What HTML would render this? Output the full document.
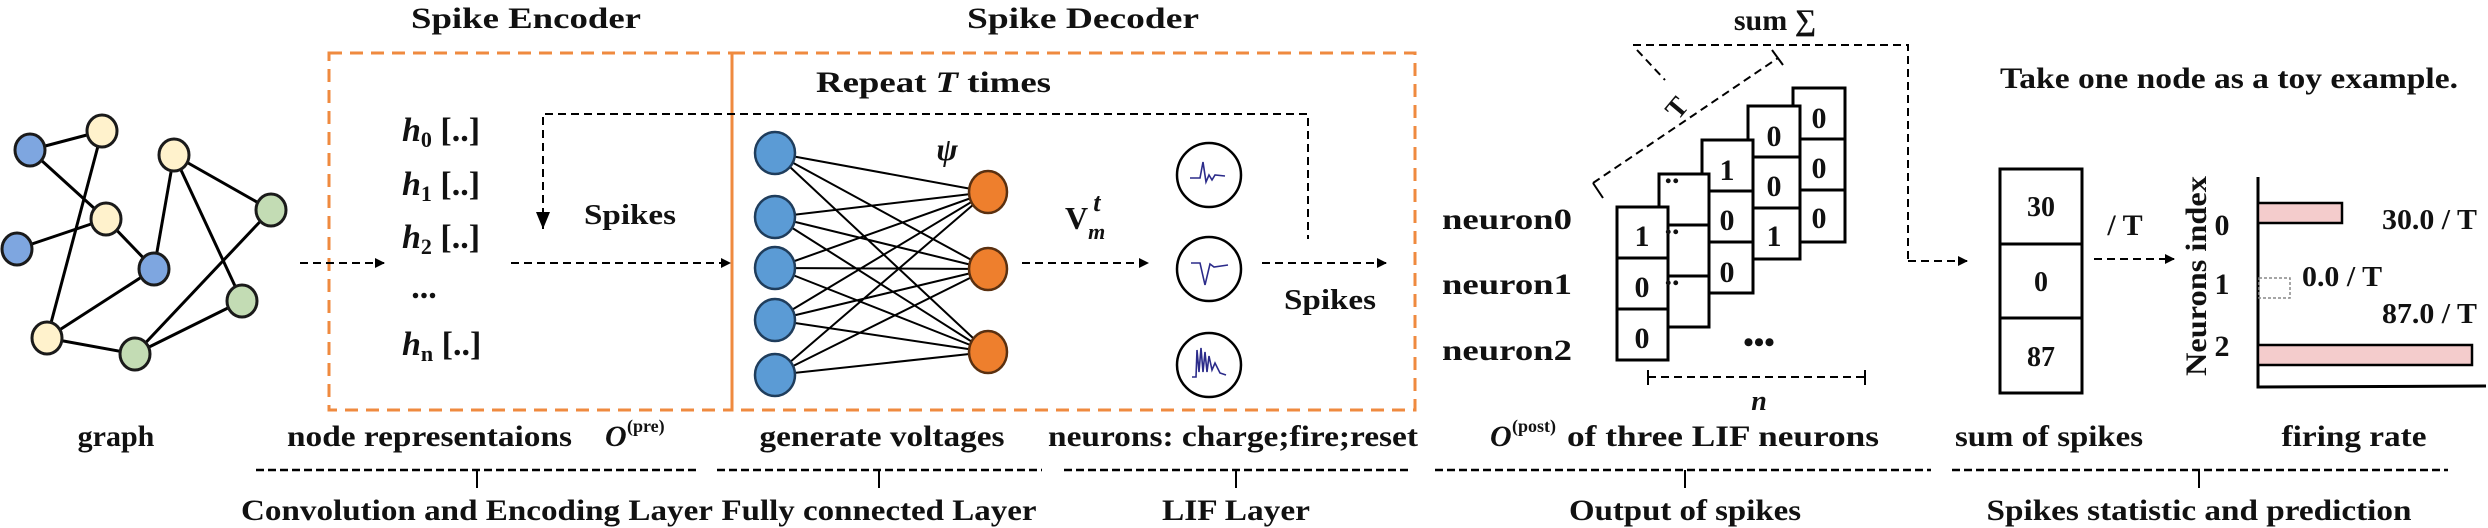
<!DOCTYPE html>
<html><head><meta charset="utf-8"><style>
html,body{margin:0;padding:0;background:#fff;}
svg{display:block;font-family:"Liberation Serif","Times New Roman","DejaVu Serif",serif;}
svg text{font-family:"Liberation Serif","Times New Roman","DejaVu Serif",serif;font-weight:bold;fill:#111;}
</style></head><body>
<svg width="2488" height="528" viewBox="0 0 2488 528" xmlns="http://www.w3.org/2000/svg" font-family="Liberation Serif, serif" font-weight="bold">
<defs>
<marker id="ah" markerWidth="10" markerHeight="10" refX="9" refY="5" orient="auto" markerUnits="userSpaceOnUse" viewBox="0 0 10 10">
<path d="M0,0 L10,5 L0,10 z" fill="#000"/></marker>
</defs>
<!-- graph -->
<g stroke="#000" stroke-width="3">
<line x1="30" y1="150" x2="102" y2="131"/><line x1="30" y1="150" x2="106" y2="219"/>
<line x1="102" y1="131" x2="47" y2="338"/><line x1="106" y1="219" x2="17" y2="249"/>
<line x1="106" y1="219" x2="154" y2="269"/><line x1="174" y1="155" x2="154" y2="269"/>
<line x1="174" y1="155" x2="271" y2="210"/><line x1="174" y1="155" x2="242" y2="301"/>
<line x1="154" y1="269" x2="47" y2="338"/><line x1="47" y1="338" x2="135" y2="354"/>
<line x1="135" y1="354" x2="271" y2="210"/><line x1="135" y1="354" x2="242" y2="301"/>
</g>
<g stroke="#1a1a1a" stroke-width="3">
<ellipse cx="30" cy="150" rx="15" ry="16" fill="#7ea6e0"/>
<ellipse cx="17" cy="249" rx="15" ry="16" fill="#7ea6e0"/>
<ellipse cx="154" cy="269" rx="15" ry="16" fill="#7ea6e0"/>
<ellipse cx="102" cy="131" rx="15" ry="16" fill="#fff2cc"/>
<ellipse cx="174" cy="155" rx="15" ry="16" fill="#fff2cc"/>
<ellipse cx="106" cy="219" rx="15" ry="16" fill="#fff2cc"/>
<ellipse cx="47" cy="338" rx="15" ry="16" fill="#fff2cc"/>
<ellipse cx="271" cy="210" rx="15" ry="16" fill="#c3dcb4"/>
<ellipse cx="242" cy="301" rx="15" ry="16" fill="#c3dcb4"/>
<ellipse cx="135" cy="354" rx="15" ry="16" fill="#c3dcb4"/>
</g>
<text x="116" y="446" font-size="30" text-anchor="middle">graph</text>

<!-- orange boxes -->
<g fill="none" stroke="#ef8a3f" stroke-width="3" stroke-dasharray="13,8">
<rect x="329" y="53" width="403" height="357"/>
<rect x="732" y="53" width="683" height="357"/>
</g>
<text x="526" y="28" font-size="30" text-anchor="middle" textLength="230" lengthAdjust="spacingAndGlyphs">Spike Encoder</text>
<text x="1083" y="28" font-size="30" text-anchor="middle" textLength="232" lengthAdjust="spacingAndGlyphs">Spike Decoder</text>
<text x="816" y="92" font-size="30" textLength="235" lengthAdjust="spacingAndGlyphs">Repeat <tspan font-style="italic">T</tspan> times</text>

<!-- dashed arrows -->
<g fill="none" stroke="#000" stroke-width="2" stroke-dasharray="8,5">
<line x1="300" y1="263" x2="384" y2="263" marker-end="url(#ah)"/>
<line x1="511" y1="263" x2="730" y2="263" marker-end="url(#ah)"/>
<polyline points="543,229 543,114 1308,114 1308,239"/>
<line x1="1022" y1="263" x2="1148" y2="263" marker-end="url(#ah)"/>
<line x1="1262" y1="263" x2="1386" y2="263" marker-end="url(#ah)"/>
</g>
<path d="M536,212 L550,212 L543,229 z" fill="#000"/>

<!-- h labels -->
<g font-size="34">
<text x="402" y="141"><tspan font-style="italic">h</tspan><tspan font-size="22" dy="6">0</tspan><tspan dy="-6"> [..]</tspan></text>
<text x="402" y="195"><tspan font-style="italic">h</tspan><tspan font-size="22" dy="6">1</tspan><tspan dy="-6"> [..]</tspan></text>
<text x="402" y="248"><tspan font-style="italic">h</tspan><tspan font-size="22" dy="6">2</tspan><tspan dy="-6"> [..]</tspan></text>
<text x="424" y="298" text-anchor="middle">...</text>
<text x="402" y="355"><tspan font-style="italic">h</tspan><tspan font-size="22" dy="6">n</tspan><tspan dy="-6"> [..]</tspan></text>
</g>
<text x="584" y="224" font-size="28" textLength="92" lengthAdjust="spacingAndGlyphs">Spikes</text>

<!-- FC -->
<g stroke="#000" stroke-width="2">
<path d="M775,153L988,192M775,153L988,269M775,153L988,352M775,217L988,192M775,217L988,269M775,217L988,352M775,268L988,192M775,268L988,269M775,268L988,352M775,320L988,192M775,320L988,269M775,320L988,352M775,375L988,192M775,375L988,269M775,375L988,352"/>
</g>
<g stroke="#1f3d5c" stroke-width="2.5" fill="#5b9bd5">
<ellipse cx="775" cy="153" rx="20" ry="21"/><ellipse cx="775" cy="217" rx="20" ry="21"/>
<ellipse cx="775" cy="268" rx="20" ry="21"/><ellipse cx="775" cy="320" rx="20" ry="21"/>
<ellipse cx="775" cy="375" rx="20" ry="21"/>
</g>
<g stroke="#5a3010" stroke-width="2.5" fill="#ee7f2d">
<ellipse cx="988" cy="192" rx="19" ry="21"/><ellipse cx="988" cy="269" rx="19" ry="21"/>
<ellipse cx="988" cy="352" rx="19" ry="21"/>
</g>
<text x="947" y="160" font-size="32" font-style="italic" text-anchor="middle">ψ</text>
<text x="1065" y="229" font-size="32">V<tspan font-size="22" font-style="italic" dy="10">m</tspan><tspan font-size="26" font-style="italic" dx="-12" dy="-28">t</tspan></text>

<!-- LIF -->
<g fill="#fff" stroke="#000" stroke-width="2.5">
<circle cx="1209" cy="175" r="32"/><circle cx="1209" cy="269" r="32"/><circle cx="1209" cy="365" r="32"/>
</g>
<g fill="none" stroke="#2b2b8a" stroke-width="1.6">
<path d="M1190,178 L1200,178 L1203,162 L1206,182 L1209,175 L1212,180 L1215,175 L1225,176"/>
<path d="M1191,263 L1200,263 L1205,285 L1210,264 L1214,267 L1228,265"/>
<path d="M1192,377 L1196,377 L1197,350 L1199,372 L1201,348 L1203,372 L1205,352 L1207,372 L1209,356 L1212,370 L1215,363 L1220,373 L1226,375"/>
</g>
<text x="1330" y="309" font-size="28" text-anchor="middle" textLength="92" lengthAdjust="spacingAndGlyphs">Spikes</text>

<!-- bottom labels -->
<text x="287" y="446" font-size="30" textLength="285" lengthAdjust="spacingAndGlyphs">node representaions</text>
<text x="605" y="446" font-size="30" font-style="italic">O</text><text x="627" y="432" font-size="18">(pre)</text>
<text x="882" y="446" font-size="30" text-anchor="middle" textLength="245" lengthAdjust="spacingAndGlyphs">generate voltages</text>
<text x="1233" y="446" font-size="30" text-anchor="middle" textLength="370" lengthAdjust="spacingAndGlyphs">neurons: charge;fire;reset</text>
<text x="1490" y="446" font-size="30" font-style="italic">O</text><text x="1512" y="432" font-size="18">(post)</text>
<text x="1567" y="446" font-size="30" textLength="312" lengthAdjust="spacingAndGlyphs">of three  LIF neurons</text>
<text x="1955" y="446" font-size="30" textLength="188" lengthAdjust="spacingAndGlyphs">sum of spikes</text>
<text x="2354" y="446" font-size="30" text-anchor="middle" textLength="145" lengthAdjust="spacingAndGlyphs">firing rate</text>

<!-- brackets -->
<g fill="none" stroke="#000" stroke-width="2.5" stroke-dasharray="8,4">
<line x1="256" y1="470" x2="698" y2="470"/><line x1="717" y1="470" x2="1042" y2="470"/>
<line x1="1064" y1="470" x2="1410" y2="470"/><line x1="1435" y1="470" x2="1931" y2="470"/>
<line x1="1952" y1="470" x2="2448" y2="470"/>
</g>
<g stroke="#000" stroke-width="2">
<line x1="477" y1="470" x2="477" y2="488"/><line x1="879" y1="470" x2="879" y2="488"/>
<line x1="1236" y1="470" x2="1236" y2="488"/><line x1="1685" y1="470" x2="1685" y2="488"/>
<line x1="2199" y1="470" x2="2199" y2="488"/>
</g>
<text x="477" y="520" font-size="30" text-anchor="middle" textLength="472" lengthAdjust="spacingAndGlyphs">Convolution and Encoding Layer</text>
<text x="879" y="520" font-size="30" text-anchor="middle" textLength="315" lengthAdjust="spacingAndGlyphs">Fully connected Layer</text>
<text x="1236" y="520" font-size="30" text-anchor="middle" textLength="148" lengthAdjust="spacingAndGlyphs">LIF Layer</text>
<text x="1685" y="520" font-size="30" text-anchor="middle" textLength="232" lengthAdjust="spacingAndGlyphs">Output of spikes</text>
<text x="2199" y="520" font-size="30" text-anchor="middle" textLength="425" lengthAdjust="spacingAndGlyphs">Spikes statistic and prediction</text>

<!-- output of spikes -->
<text x="1775" y="30" font-size="30" text-anchor="middle">sum ∑</text>
<g fill="none" stroke="#000" stroke-width="2" stroke-dasharray="8,5">
<polyline points="1633,45 1908,45 1908,261"/>
<line x1="1908" y1="261" x2="1967" y2="261" marker-end="url(#ah)"/>
<line x1="1593" y1="183" x2="1778" y2="58"/>
<line x1="1637" y1="50" x2="1665" y2="80"/>
<line x1="1648" y1="377" x2="1865" y2="377"/>
</g>
<g stroke="#000" stroke-width="2">
<line x1="1593" y1="183" x2="1603" y2="198"/><line x1="1772" y1="50" x2="1783" y2="65"/>
<line x1="1648" y1="370" x2="1648" y2="385"/><line x1="1865" y1="370" x2="1865" y2="385"/>
</g>
<text x="1677" y="117" font-size="28" text-anchor="middle" transform="rotate(-50 1677 108)">T</text>
<text x="1759" y="410" font-size="28" font-style="italic" text-anchor="middle">n</text>
<text x="1442" y="229" font-size="30" textLength="130" lengthAdjust="spacingAndGlyphs">neuron0</text>
<text x="1442" y="294" font-size="30" textLength="130" lengthAdjust="spacingAndGlyphs">neuron1</text>
<text x="1442" y="360" font-size="30" textLength="130" lengthAdjust="spacingAndGlyphs">neuron2</text>
<g stroke="#000" stroke-width="3" fill="#fff">
<rect x="1793" y="88" width="52" height="51"/><rect x="1793" y="139" width="52" height="51"/><rect x="1793" y="190" width="52" height="52"/>
<rect x="1748" y="106" width="52" height="51"/><rect x="1748" y="157" width="52" height="51"/><rect x="1748" y="208" width="52" height="51"/>
<rect x="1702" y="140" width="51" height="51"/><rect x="1702" y="191" width="51" height="51"/><rect x="1702" y="242" width="51" height="51"/>
<rect x="1659" y="174" width="50" height="51"/><rect x="1659" y="225" width="50" height="51"/><rect x="1659" y="276" width="50" height="51"/>
<rect x="1617" y="207" width="51" height="51"/><rect x="1617" y="258" width="51" height="51"/><rect x="1617" y="309" width="51" height="51"/>
</g>
<g font-size="30" text-anchor="middle">
<text x="1819" y="128">0</text><text x="1819" y="178" font-weight="normal">0</text><text x="1819" y="228">0</text>
<text x="1774" y="146">0</text><text x="1774" y="196" font-weight="normal">0</text><text x="1774" y="246">1</text>
<text x="1727" y="180">1</text><text x="1727" y="230" font-weight="normal">0</text><text x="1727" y="282">0</text>
<text x="1672" y="183">..</text><text x="1672" y="234">..</text><text x="1672" y="285">..</text>
<text x="1642" y="246">1</text><text x="1642" y="297" font-weight="normal">0</text><text x="1642" y="348">0</text>
<text x="1759" y="352">•••</text>
</g>

<!-- sum box -->
<g stroke="#000" stroke-width="3" fill="#fff">
<rect x="2000" y="169" width="82" height="224"/>
<line x1="2000" y1="244" x2="2082" y2="244"/><line x1="2000" y1="318" x2="2082" y2="318"/>
</g>
<g font-size="28" text-anchor="middle">
<text x="2041" y="216">30</text><text x="2041" y="291">0</text><text x="2041" y="366">87</text>
</g>
<text x="2125" y="235" font-size="30" text-anchor="middle">/ T</text>
<line x1="2094" y1="259" x2="2174" y2="259" stroke="#000" stroke-width="2" stroke-dasharray="8,5" marker-end="url(#ah)"/>

<!-- bar chart -->
<text x="2206" y="276" font-size="30" text-anchor="middle" transform="rotate(-90 2206 276)" textLength="200" lengthAdjust="spacingAndGlyphs">Neurons index</text>
<g font-size="30" text-anchor="middle">
<text x="2222" y="235">0</text><text x="2222" y="294">1</text><text x="2222" y="356">2</text>
</g>
<g stroke="#000" stroke-width="3" fill="none">
<polyline points="2258,177 2258,387 2486,386"/>
</g>
<rect x="2258" y="203" width="84" height="20" fill="#f4cccc" stroke="#000" stroke-width="2.5"/>
<rect x="2258" y="345" width="214" height="20" fill="#f4cccc" stroke="#000" stroke-width="2.5"/>
<rect x="2259" y="278" width="31" height="20" fill="none" stroke="#888" stroke-width="1.5" stroke-dasharray="3,2"/>
<g font-size="28">
<text x="2382" y="229" textLength="95" lengthAdjust="spacingAndGlyphs">30.0 / T</text>
<text x="2302" y="286" textLength="80" lengthAdjust="spacingAndGlyphs">0.0 / T</text>
<text x="2382" y="323" textLength="95" lengthAdjust="spacingAndGlyphs">87.0 / T</text>
</g>
<text x="2000" y="88" font-size="30" textLength="458" lengthAdjust="spacingAndGlyphs">Take one node as a toy example.</text>
</svg>
</body></html>
